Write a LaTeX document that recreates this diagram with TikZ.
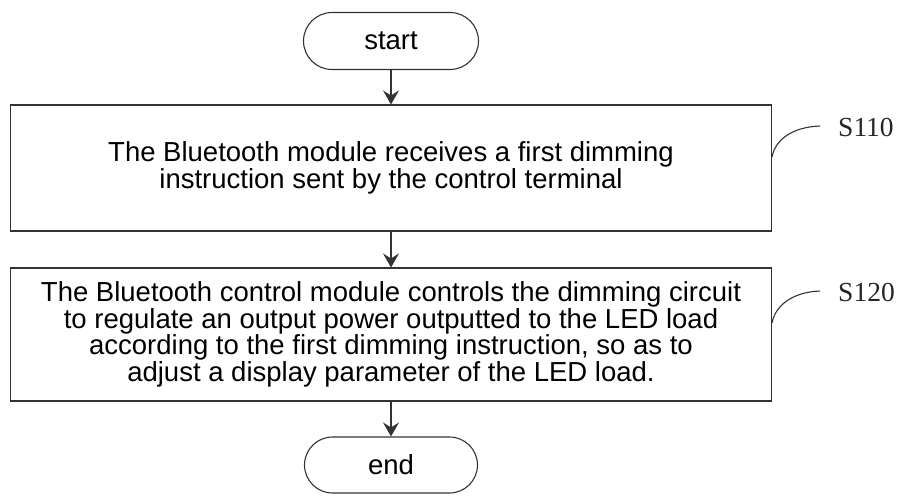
\documentclass[tikz,border=0pt]{standalone}
\usepackage{fontspec}
\setmainfont{Liberation Sans}
\newfontfamily\labelfont{Liberation Serif}
\usetikzlibrary{shapes.misc,arrows.meta}
\tikzset{
  ln/.style={draw=black!80, line width=1.1pt},
  terminal/.style={ln, rounded rectangle, minimum width=175pt, minimum height=57pt, inner sep=0pt,
    font=\fontsize{27.5}{25.5}\selectfont},
  stepbox/.style={ln, rectangle, minimum width=761pt, inner sep=0pt, align=center,
    font=\fontsize{27.5}{25.5}\selectfont},
  flow/.style={ln, -{Stealth[length=14pt,width=16pt,inset=5pt]}},
  steplabel/.style={anchor=west, inner sep=0pt, font=\labelfont\fontsize{27.5}{28}\selectfont, text=black!85},
  leader/.style={draw=black!80, line width=1.1pt}
}
\begin{document}
\begin{tikzpicture}[x={(1pt,0)}, y={(0,-1pt)}]
\useasboundingbox (0,0) rectangle (901,495);
\node[terminal] (start) at (391,41) {start};
\node[stepbox, minimum height=126pt] (b1) at (391,168)
  {The Bluetooth module receives a first dimming\\instruction sent by the control terminal};
\node[stepbox, minimum height=133pt] (b2) at (391,334.5)
  {The Bluetooth control module controls the dimming circuit\\to regulate an output power outputted to the LED load\\according to the first dimming instruction, so as to\\adjust a display parameter of the LED load.};
\node[terminal, minimum width=173pt, minimum height=56pt] (end) at (391,465) {end};

\draw[flow] (start.south) -- (b1.north);
\draw[flow] (b1.south) -- (b2.north);
\draw[flow] (b2.south) -- (end.north);

\node[steplabel] (l1) at (838,127) {S110};
\node[steplabel] (l2) at (838,292) {S120};
\coordinate (c1) at (b1.east |- 0,157);
\coordinate (c2) at (b2.east |- 0,323);
\coordinate (e1) at (820,126);
\coordinate (e2) at (820,291);
\draw[leader] (c1) .. controls (775,140) and (792,127) .. (e1);
\draw[leader] (c2) .. controls (775,306) and (792,292) .. (e2);
\end{tikzpicture}
\end{document}
